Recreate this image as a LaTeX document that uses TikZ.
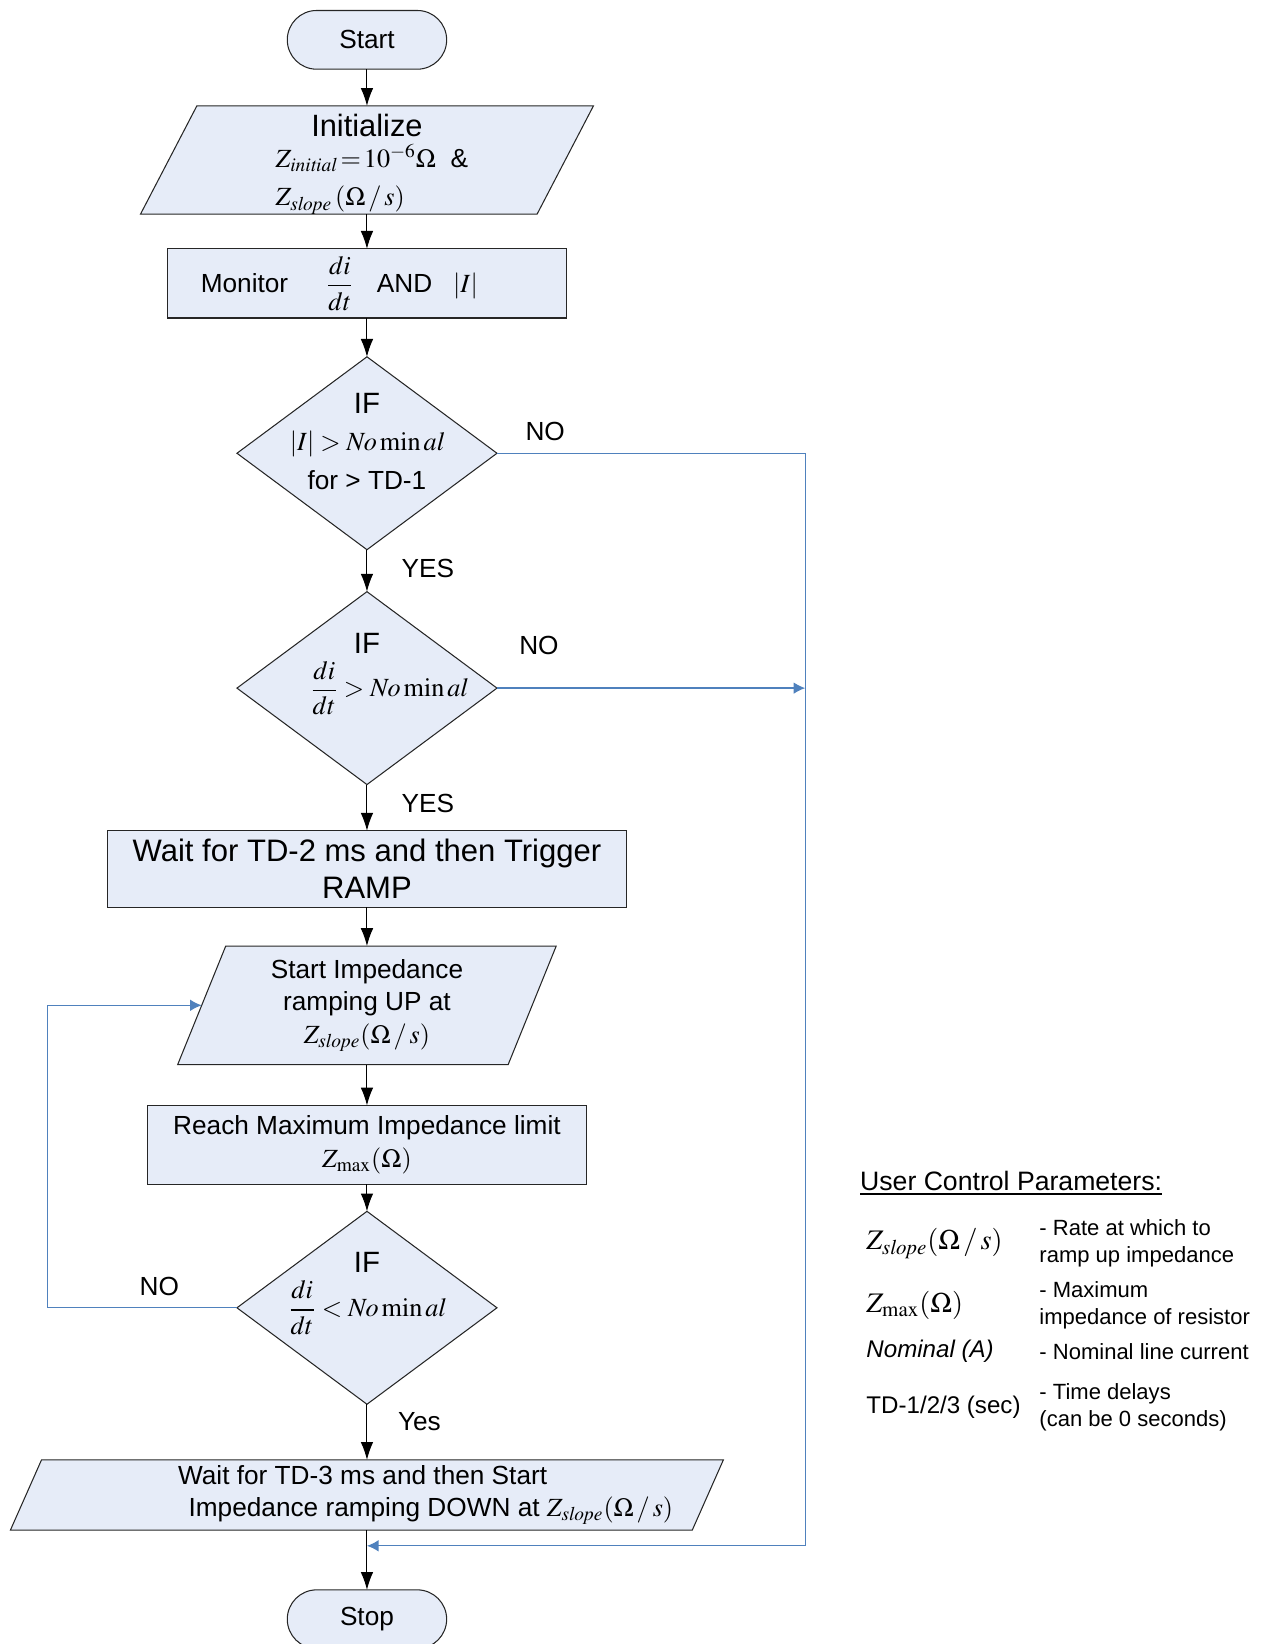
\documentclass[tikz,border=0pt]{standalone}
\usepackage{amsmath}
\usepackage{mathptmx}
\usepackage[no-math]{fontspec}
\setmainfont{Liberation Sans}
\usepackage{tikz}
\usetikzlibrary{arrows.meta,shapes.geometric,positioning}

\definecolor{boxfill}{RGB}{230,236,248}
\definecolor{noline}{RGB}{79,129,189}

\tikzset{
    base/.style={draw=black!85, fill=boxfill, line width=0.5pt, inner sep=0pt,
        outer sep=0pt, align=center, font=\fontsize{12.5}{15.5}\selectfont},
    term/.style={base, rectangle, rounded corners=14pt,
        minimum width=76pt, minimum height=28pt},
    proc/.style={base, rectangle},
    io/.style={base, trapezium, trapezium left angle=62.5,
        trapezium right angle=117.5, trapezium stretches body},
    test/.style={base, diamond, aspect=1.35,
        minimum width=124pt, minimum height=92pt},
    iflbl/.style={anchor=center, font=\fontsize{14}{16}\selectfont},
    condlbl/.style={anchor=center, align=center, font=\fontsize{12.5}{15.5}\selectfont},
    lbl/.style={font=\fontsize{12.5}{15}\selectfont},
    flow/.style={draw=black, line width=0.5pt,
        -{Latex[length=8.5pt,width=6pt]}},
    noflow/.style={draw=noline, line width=0.6pt,
        -{Latex[length=5.5pt,width=5.5pt]}},
}

\begin{document}
\begin{tikzpicture}[x=0.5pt, y=-0.5pt]
    \useasboundingbox (0,0) rectangle (1204,1568);

    % main column
    \node[term] (start) at (350,38) {Start};
    \node[io, minimum width=216pt, minimum height=51.5pt, below=17.5pt of start] (init)
        {{\fontsize{14.7}{17}\selectfont\rule{0pt}{14.7pt}Initialize}\\[-1pt]
         \makebox[87pt][l]{$Z_{\mathit{initial}}\,{=}\,10^{-6}\Omega$\ \ \&}\\[3pt]
         \makebox[87pt][l]{$Z_{\mathit{slope}}\,(\Omega\,/\,s)$}};
    \node[proc, minimum width=190.5pt, minimum height=33pt, text width=158.5pt,
        inner xsep=16pt, align=left, below=16.5pt of init] (monitor)
        {Monitor\hspace{18pt}$\dfrac{di}{dt}$\hspace{11pt}AND\hspace{10pt}$\lvert I\rvert$};
    \node[test, below=18.5pt of monitor,
        label={[iflbl, name=ifAbsIf, yshift=-22pt]90:IF},
        label={[condlbl, name=ifAbsCond, yshift=-49.5pt]90:{$\lvert I\rvert > \mathit{No}\min\mathit{al}$\\[3pt]for > TD-1}}] (ifAbs) {};
    \node[test, below=20pt of ifAbs, label={[iflbl, name=ifRiseIf, yshift=-24.5pt]90:IF}] (ifRise)
        {\makebox[0pt]{\hspace{21pt}$\dfrac{di}{dt} > \mathit{No}\min\mathit{al}$}};
    \node[proc, minimum width=247.5pt, minimum height=36.5pt, below=22pt of ifRise,
        font=\fontsize{14.8}{17.5}\selectfont] (trigger)
        {Wait for TD-2 ms and then Trigger\\RAMP};
    \node[io, minimum width=180.5pt, minimum height=56.5pt, below=18.5pt of trigger] (rampUp)
        {Start Impedance\\ramping UP at\\$Z_{\mathit{slope}}(\Omega\,/\,s)$};
    \node[proc, minimum width=209.5pt, minimum height=37.5pt, below=19.5pt of rampUp] (reach)
        {Reach Maximum Impedance limit\\$Z_{\max}(\Omega)$};
    \node[test, below=13pt of reach, label={[iflbl, name=ifFallIf, yshift=-24.5pt]90:IF}] (ifFall)
        {$\dfrac{di}{dt} < \mathit{No}\min\mathit{al}$};
    \node[io, minimum width=340pt, minimum height=33.5pt, below=26.5pt of ifFall,
        align=left] (rampDown)
        {\hspace*{56pt}Wait for TD-3 ms and then Start\\
         \hspace*{61pt}Impedance ramping DOWN at $Z_{\mathit{slope}}(\Omega\,/\,s)$};
    \node[term, below=28.5pt of rampDown] (stop) {Stop};

    \foreach \from/\to in {start/init, init/monitor, monitor/ifAbs, ifAbs/ifRise,
        ifRise/trigger, trigger/rampUp, rampUp/reach, reach/ifFall,
        ifFall/rampDown, rampDown/stop}
        \draw[flow] (\from.south) -- (\to.north);

    % NO branches
    \coordinate (busX) at (768,0);
    \coordinate (loopX) at (45,0);
    \coordinate[below=7.5pt of rampDown.south] (merge);
    \draw[noflow] (ifAbs.east) -| (busX |- merge) -- (merge);
    \draw[noflow] (ifRise.east) -- (busX |- ifRise.east);
    \draw[noflow] (ifFall.west) -| (loopX |- rampUp.left side) -- (rampUp.left side);

    \node[lbl] (noAbs) at ([shift={(46,-21)}]ifAbs.east) {NO};
    \node[lbl] (yesAbs) at ([shift={(58,18)}]ifAbs.south) {YES};
    \node[lbl] (noRise) at ([shift={(40,-41)}]ifRise.east) {NO};
    \node[lbl] (yesRise) at ([shift={(58,18)}]ifRise.south) {YES};
    \node[lbl] (noFall) at ([shift={(-74,-20)}]ifFall.west) {NO};
    \node[lbl] (yesFall) at ([shift={(50,17)}]ifFall.south) {Yes};

    % legend
    \node[anchor=base west, inner sep=0pt, font=\fontsize{12.7}{15}\selectfont] (legTitle)
        at (820,1135) {\underline{User Control Parameters:}};
    \foreach \i/\y/\sym/\desc in {
        1/1186/{{\fontsize{13.5}{16}\selectfont$Z_{\mathit{slope}}(\Omega\,/\,s)$}}/{- Rate at which to\\ramp up impedance},
        2/1245/{{\fontsize{13.5}{16}\selectfont$Z_{\max}(\Omega)$}}/{- Maximum\\impedance of resistor},
        3/1289/{\textit{Nominal (A)}}/{- Nominal line current},
        4/1342/{TD-1/2/3 (sec)}/{- Time delays\\(can be 0 seconds)}} {
        \node[anchor=west, inner sep=0pt, font=\fontsize{11.5}{14}\selectfont] (sym\i) at (826,\y) {\sym};
        \node[anchor=west, inner sep=0pt, align=left, font=\fontsize{10.5}{13}\selectfont] (desc\i) at (991,\y) {\desc};
    }
\end{tikzpicture}
\end{document}
